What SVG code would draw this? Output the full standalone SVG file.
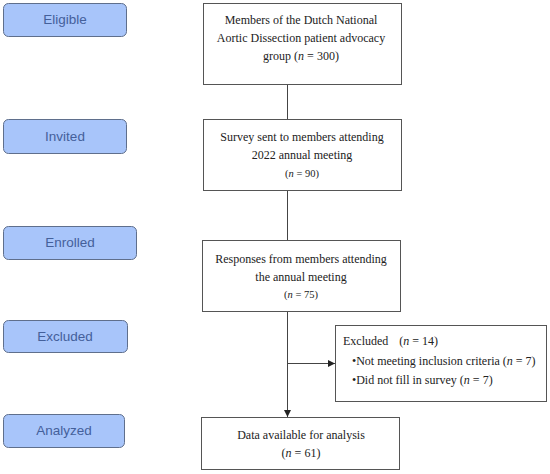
<svg xmlns="http://www.w3.org/2000/svg" width="550" height="474" viewBox="0 0 550 474">
<style>
.stage rect{fill:#a8c5fa;stroke:#5f6f8c;stroke-width:1}
.stage text{font-family:"Liberation Sans",Arial,sans-serif;font-size:13.5px;fill:#44609a;text-anchor:middle}
.box rect{fill:#fff;stroke:#555;stroke-width:1}
.box text{font-family:"Liberation Serif","Times New Roman",serif;font-size:12px;fill:#222;text-anchor:middle}
.box text.small{font-size:10.5px}
.box text.left{text-anchor:start}
.conn{stroke:#444;stroke-width:1;fill:none}
</style>
<defs>
<marker id="arr" markerWidth="8" markerHeight="8" refX="7" refY="4" orient="auto" markerUnits="userSpaceOnUse">
<path d="M0,0.5 L7,4 L0,7.5 Z" fill="#222"/>
</marker>
</defs>
<rect width="550" height="474" fill="#fff"/>
<g id="stage-eligible" class="stage"><rect x="3.5" y="3.5" width="123" height="33" rx="5"/><text x="65" y="24">Eligible</text></g>
<g id="stage-invited" class="stage"><rect x="3.5" y="119.5" width="123" height="34" rx="5"/><text x="65" y="141">Invited</text></g>
<g id="stage-enrolled" class="stage"><rect x="3.5" y="226.5" width="133" height="33" rx="5"/><text x="70" y="247">Enrolled</text></g>
<g id="stage-excluded" class="stage"><rect x="3.5" y="320.5" width="124" height="32" rx="5"/><text x="65" y="341">Excluded</text></g>
<g id="stage-analyzed" class="stage"><rect x="3.5" y="414.5" width="121" height="33" rx="5"/><text x="64" y="435">Analyzed</text></g>
<g id="connectors">
<line class="conn" x1="287.5" y1="84" x2="287.5" y2="119"/>
<line class="conn" x1="287.5" y1="190" x2="287.5" y2="240"/>
<line class="conn" x1="287.5" y1="311" x2="287.5" y2="417" marker-end="url(#arr)"/>
<line class="conn" x1="287.5" y1="363.5" x2="335" y2="363.5" marker-end="url(#arr)"/>
</g>
<g id="node-members" class="box"><rect x="203.5" y="3.5" width="198" height="81"/>
<text x="301" y="24">Members of the Dutch National</text>
<text x="301" y="42">Aortic Dissection patient advocacy</text>
<text x="301" y="60">group (<tspan font-style="italic">n</tspan> = 300)</text></g>
<g id="node-survey" class="box"><rect x="203.5" y="119.5" width="198" height="71"/>
<text x="302" y="141">Survey sent to members attending</text>
<text x="302" y="159">2022 annual meeting</text>
<text class="small" x="302" y="177">(<tspan font-style="italic">n</tspan> = 90)</text></g>
<g id="node-responses" class="box"><rect x="202.5" y="240.5" width="198" height="71"/>
<text x="301" y="263">Responses from members attending</text>
<text x="301" y="281">the annual meeting</text>
<text class="small" x="301" y="298">(<tspan font-style="italic">n</tspan> = 75)</text></g>
<g id="node-excluded" class="box"><rect x="335.5" y="325.5" width="211" height="76"/>
<text class="left" x="343" y="345">Excluded <tspan dx="8">(</tspan><tspan font-style="italic">n</tspan> = 14)</text>
<text class="left" x="352" y="365">•Not meeting inclusion criteria (<tspan font-style="italic">n</tspan> = 7)</text>
<text class="left" x="352" y="384">•Did not fill in survey (<tspan font-style="italic">n</tspan> = 7)</text></g>
<g id="node-data" class="box"><rect x="201.5" y="417.5" width="198" height="52"/>
<text x="301" y="439">Data available for analysis</text>
<text x="301" y="457">(<tspan font-style="italic">n</tspan> = 61)</text></g>
</svg>
